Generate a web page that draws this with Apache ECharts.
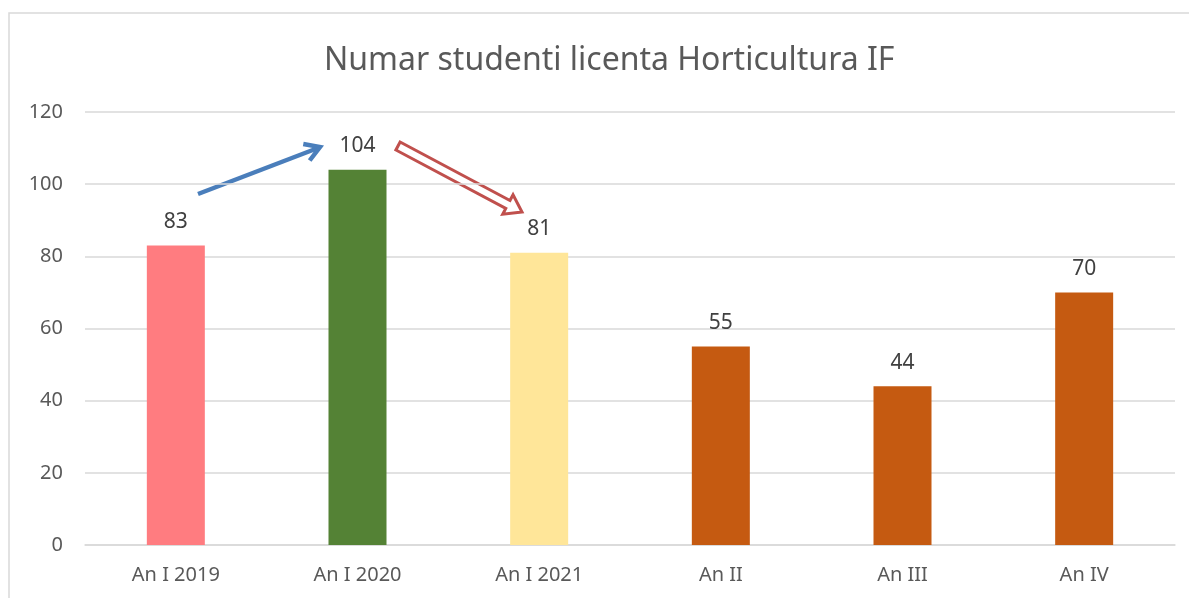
<!DOCTYPE html>
<html>
<head>
<meta charset="utf-8">
<script src="https://cdn.jsdelivr.net/npm/echarts@6/dist/echarts.min.js"></script>
<style>
	html,body{margin:0;padding:0;background:#fff;}
	#chart{width:1189px;height:598px;}
</style>
</head>
<body>
<div id="chart"></div>
<script>
	// categorii si valori
	var categories = ["An I 2019", "An I 2020", "An I 2021", "An II", "An III", "An IV"];
	var students = [83, 104, 81, 55, 44, 70];
	var barColors = ["#ff7c80", "#548235", "#ffe699", "#c55a11", "#c55a11", "#c55a11"];

	var myChart = echarts.init(document.getElementById("chart"));

	// sageata goala (rosie) construita din poligon
	function hollowArrow(x1, y1, x2, y2){
		var dx = x2 - x1, dy = y2 - y1;
		var L = Math.sqrt(dx * dx + dy * dy);
		var a = Math.atan2(dy, dx);
		var pts = [[0, -4.5], [L - 16, -4.5], [L - 16, -11], [L, 0], [L - 16, 11], [L - 16, 4.5], [0, 4.5]];
		return pts.map(function(p){
			return [x1 + p[0] * Math.cos(a) - p[1] * Math.sin(a), y1 + p[0] * Math.sin(a) + p[1] * Math.cos(a)];
		});
	}
	// varful sagetii albastre
	function arrowHead(x1, y1, x2, y2, len, ang){
		var a = Math.atan2(y2 - y1, x2 - x1);
		return [
			[x2 - len * Math.cos(a - ang), y2 - len * Math.sin(a - ang)],
			[x2, y2],
			[x2 - len * Math.cos(a + ang), y2 - len * Math.sin(a + ang)]
		];
	}

	var option = {
		animation: false,
		title: {
			text: "Numar studenti licenta Horticultura IF",
			left: 319,
			top: 40,
			textStyle: {
				color: "#595959",
				fontSize: 32,
				fontWeight: "normal",
				fontFamily: "Noto Sans"
			}
		},
		grid: {
			left: 85,
			right: 14,
			top: 112,
			bottom: 53
		},
		xAxis: {
			type: "category",
			data: categories,
			axisLine: {lineStyle: {color: "#d9d9d9", width: 1.5}},
			axisTick: {show: false},
			axisLabel: {
				color: "#595959",
				fontSize: 20,
				margin: 20,
				fontFamily: "Noto Sans"
			}
		},
		yAxis: {
			type: "value",
			min: 0,
			max: 120,
			interval: 20,
			axisLine: {show: false},
			axisTick: {show: false},
			splitLine: {lineStyle: {color: "#d9d9d9", width: 1.5}},
			axisLabel: {
				color: "#595959",
				fontSize: 20,
				margin: 22,
				fontFamily: "Noto Sans"
			}
		},
		series: [{
			type: "bar",
			barWidth: 58,
			data: students.map(function(v, i){
				return {value: v, itemStyle: {color: barColors[i]}};
			}),
			label: {
				show: true,
				position: "top",
				distance: 13,
				color: "#404040",
				fontSize: 21,
				fontFamily: "Noto Sans"
			}
		}],
		graphic: [
			{
				type: "rect",
				shape: {x: 9, y: 13, width: 1200, height: 600},
				style: {fill: "none", stroke: "#d9d9d9", lineWidth: 1.5},
				silent: true
			},
			{
				type: "line",
				shape: {x1: 198, y1: 194, x2: 318, y2: 148},
				style: {stroke: "#4a7ebb", lineWidth: 4.5}
			},
			{
				type: "polyline",
				shape: {points: arrowHead(198, 194, 320, 147, 17, 0.55)},
				style: {stroke: "#4a7ebb", lineWidth: 4.5, fill: "none", lineJoin: "miter"}
			},
			{
				type: "polygon",
				shape: {points: hollowArrow(398, 146, 522, 212)},
				style: {fill: "#fff", stroke: "#c0504d", lineWidth: 3, lineJoin: "miter"}
			}
		]
	};
	myChart.setOption(option);
</script>
</body>
</html>
